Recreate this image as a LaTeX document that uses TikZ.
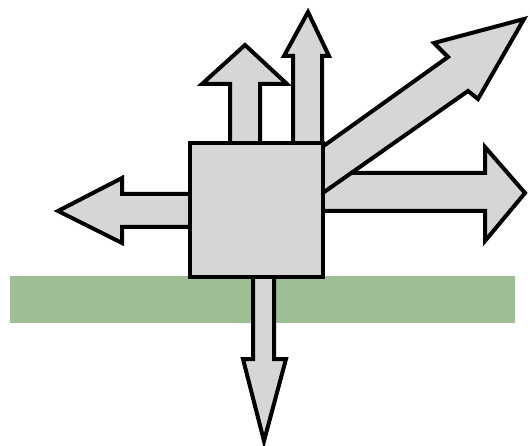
\documentclass[tikz,border=0pt]{standalone}
\usepackage{tikz}
\usetikzlibrary{decorations.pathmorphing, backgrounds}
\definecolor{boxgray}{RGB}{214,214,214}
\definecolor{grass}{RGB}{158,190,150}

\begin{document}
\begin{tikzpicture}[
      x=1pt, y=-1pt,
      sketch/.style={decorate, decoration={random steps, segment length=2.5pt, amplitude=1pt}},
      force/.style={fill=boxgray, draw=black, line width=4pt, line join=miter, miter limit=4, postaction={draw=black, line width=1.5pt, sketch}},
      body/.style={rectangle, fill=boxgray, draw=black, line width=4.5pt, inner sep=0pt, minimum width=133pt, minimum height=134pt, postaction={draw=black, line width=1.5pt, sketch}},
      ground/.style={fill=grass, draw=none}
  ]
      \useasboundingbox (0,0) rectangle (530,446);

      % Ground
      \fill[ground] (10,276) rectangle (515,323);

      % Forces (tips away from the body)
      \draw[force] (254,194) -- (122,194) -- (122,178) -- (58,211) -- (122,243) -- (122,227) -- (254,227) -- cycle;
      \draw[force] (253,210) -- (253,359) -- (243,359) -- (264,441) -- (286,359) -- (274,359) -- (274,210) -- cycle;
      \draw[force] (230,200) -- (230,84) -- (202,84) -- (245,45) -- (287,84) -- (260,84) -- (260,200) -- cycle;
      \draw[force] (293,200) -- (293,56) -- (284,56) -- (308,12) -- (329,56) -- (322,56) -- (322,200) -- cycle;
      \draw[force] (290,173) -- (485,173) -- (485,147) -- (525,193) -- (485,241) -- (485,211) -- (290,211) -- cycle;
      \draw[force] (290,170) -- (448,57) -- (434,43) -- (524,19) -- (478,99) -- (468,91) -- (290,216) -- cycle;

      % Body
      \node[body] (box) at (256.5,210) {};
  \end{tikzpicture}
\end{document}
